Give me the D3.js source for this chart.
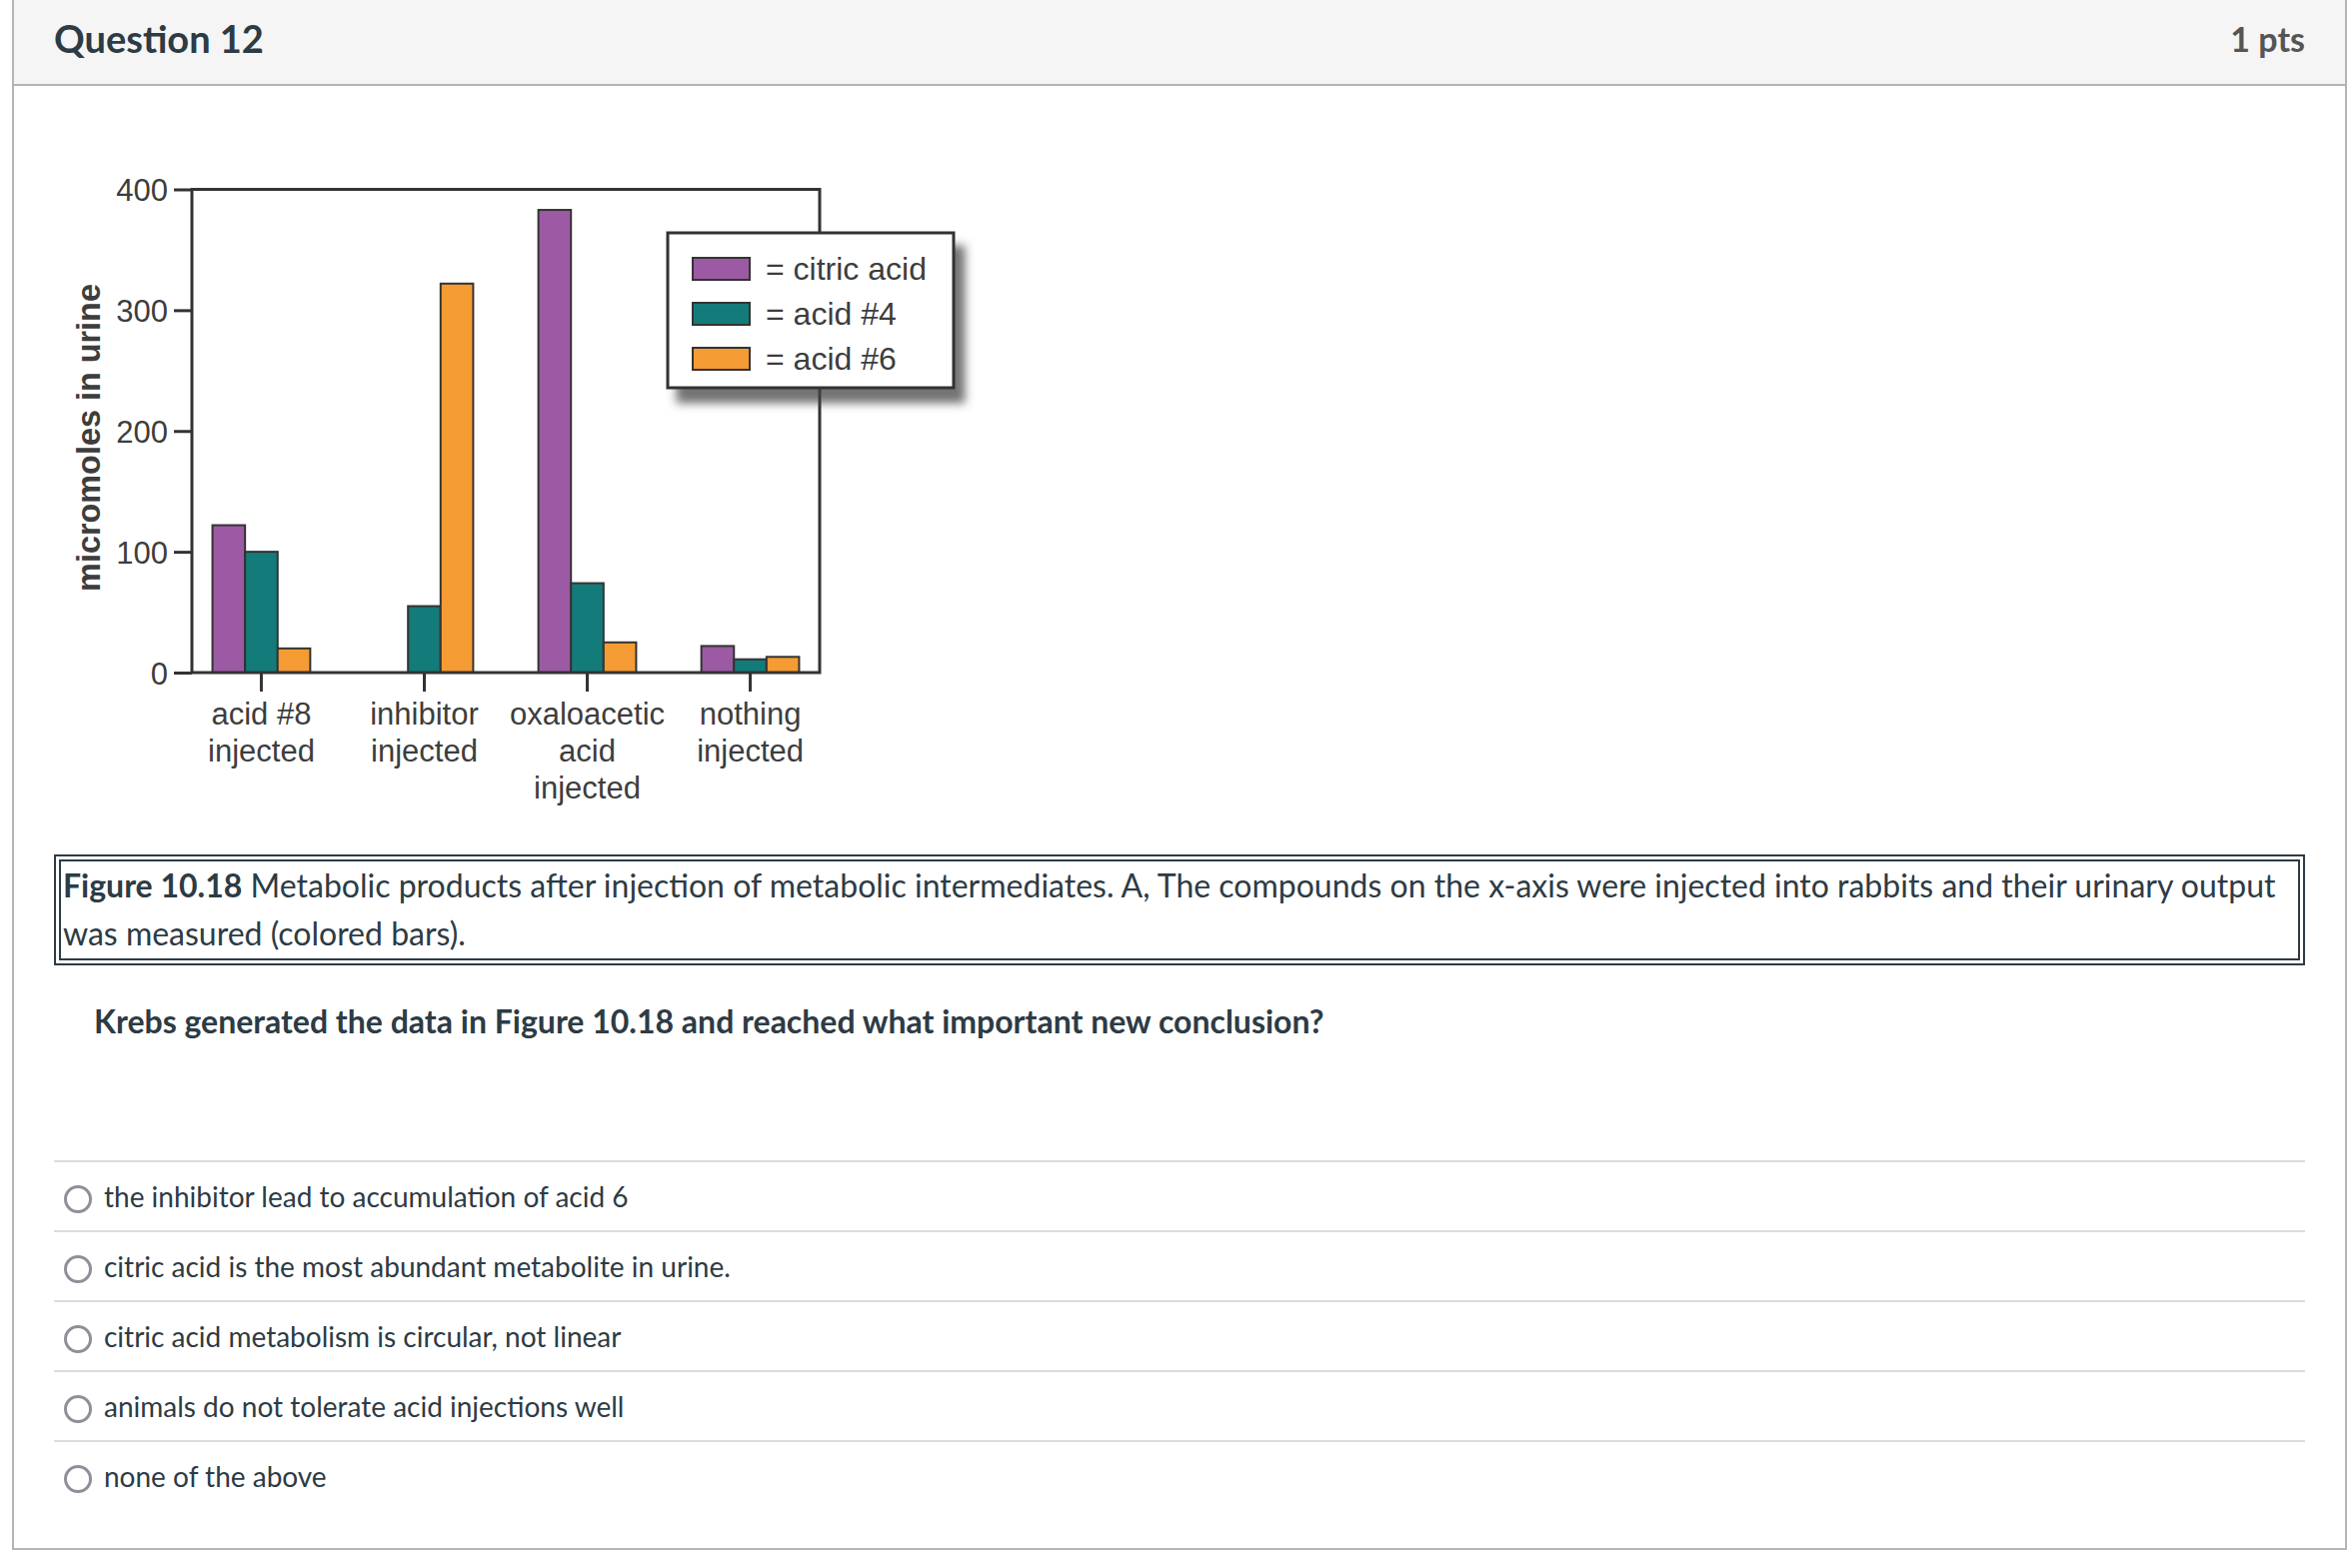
<!DOCTYPE html>
<html><head><meta charset="utf-8">
<script src="https://cdn.jsdelivr.net/npm/d3@7"></script>
<style>
html,body{margin:0;padding:0;background:#fff;width:2351px;height:1569px;overflow:hidden;font-family:Lato,sans-serif;color:#2d3b45}
.abs{position:absolute;white-space:nowrap}
#frame{position:absolute;left:12px;top:-2px;width:2336px;height:1553px;border:2px solid #b4b4b4;box-sizing:border-box}
#header{position:absolute;left:14px;top:0;width:2332px;height:84px;background:#f5f5f5;border-bottom:2px solid #b4b4b4}
#qtitle{left:54px;top:13px;font-weight:700;font-size:38px;line-height:50px;color:#2d3b45}
#pts{right:45px;top:14px;font-weight:700;font-size:34px;line-height:50px;color:#555}
#caption{position:absolute;left:54px;top:855px;width:2252px;height:111px;border:7px double #2d3b45;box-sizing:border-box;padding:0 2px;font-size:32px;line-height:48px;white-space:nowrap}
#qtext{left:94px;top:998px;font-weight:700;font-size:32px;line-height:48px}
.sep{position:absolute;left:54px;width:2252px;height:2px;background:#dcdcdc}
.radio{position:absolute;width:28px;height:28px;border:3px solid #8f8f9a;border-radius:50%;box-sizing:border-box}
.opt{position:absolute;left:104px;font-size:28px;line-height:44px;white-space:nowrap}
#chart{position:absolute;left:0;top:0}
</style></head>
<body>
<div id="frame"></div>
<div id="header"></div>
<div class="abs" id="qtitle">Question 12</div>
<div class="abs" id="pts">1 pts</div>
<div id="caption"><b>Figure 10.18</b> Metabolic products after injection of metabolic intermediates. A, The compounds on the x-axis were injected into rabbits and their urinary output<br>was measured (colored bars).</div>
<div class="abs" id="qtext">Krebs generated the data in Figure 10.18 and reached what important new conclusion?</div>
<div id="opts"></div>
<svg id="chart" width="2351" height="1569"></svg>
<script>
// ---- data ----
const categories = ["acid #8 injected", "inhibitor injected", "oxaloacetic acid injected", "nothing injected"];
const categoryLines = [["acid #8", "injected"], ["inhibitor", "injected"], ["oxaloacetic", "acid", "injected"], ["nothing", "injected"]];
const seriesNames = ["citric acid", "acid #4", "acid #6"];
const citricAcid = [122, 0, 383, 22];
const acid4 = [100, 55, 74, 11];
const acid6 = [20, 322, 25, 13];
const yTicks = [0, 100, 200, 300, 400];
const seriesColors = ["#9b5aa3", "#137b7a", "#f59b33"];
const answerOptions = [
  "the inhibitor lead to accumulation of acid 6",
  "citric acid is the most abundant metabolite in urine.",
  "citric acid metabolism is circular, not linear",
  "animals do not tolerate acid injections well",
  "none of the above"
];

// ---- page options ----
const opts = d3.select("#opts");
const sepY = [1161, 1231, 1301, 1371, 1441];
answerOptions.forEach((t, i) => {
  opts.append("div").attr("class", "sep").style("top", sepY[i] + "px");
  opts.append("div").attr("class", "radio").style("left", "64px").style("top", (sepY[i] + 25) + "px");
  opts.append("div").attr("class", "opt").style("top", (sepY[i] + 14) + "px").text(t);
});

// ---- chart ----
const svg = d3.select("#chart");
const seriesValues = [citricAcid, acid4, acid6];
const rows = categories.map((c, i) => ({cat: c, vals: seriesNames.map((s, j) => ({s, v: seriesValues[j][i], j}))}));

const pLeft = 192, pRight = 820, pTop = 189.5, pBottom = 673;
const x0 = d3.scaleBand().domain(categories).range([pLeft, pRight]).paddingInner(0.4).paddingOuter(0.126);
const x1 = d3.scaleBand().domain(seriesNames).range([0, x0.bandwidth()]);
const y = d3.scaleLinear().domain([0, 400]).range([pBottom, pTop]);
const color = d3.scaleOrdinal().domain(seriesNames).range(seriesColors);
const textFill = "#3d3d3d", lineCol = "#333";
const chartFont = "'Liberation Sans', Arial, sans-serif";

const defs = svg.append("defs");
const f = defs.append("filter").attr("id", "shadow").attr("x", "-20%").attr("y", "-20%").attr("width", "150%").attr("height", "160%");
f.append("feDropShadow").attr("dx", 10).attr("dy", 14).attr("stdDeviation", 5).attr("flood-color", "#444").attr("flood-opacity", 0.75);

// bars
const g = svg.append("g");
g.selectAll("g.grp").data(rows).join("g").attr("class", "grp")
  .attr("transform", d => `translate(${x0(d.cat)},0)`)
  .selectAll("rect").data(d => d.vals.filter(v => v.v > 0)).join("rect")
  .attr("x", d => x1(d.s)).attr("y", d => y(d.v))
  .attr("width", x1.bandwidth()).attr("height", d => y(0) - y(d.v))
  .attr("fill", d => color(d.s)).attr("stroke", lineCol).attr("stroke-width", 2);

// y axis
const ya = svg.append("g").attr("transform", `translate(${pLeft},0)`)
  .call(d3.axisLeft(y).tickValues(yTicks).tickSize(18).tickPadding(6).tickSizeOuter(0));
ya.select(".domain").remove();
ya.selectAll(".tick line").attr("stroke", lineCol).attr("stroke-width", 3);
ya.selectAll(".tick text").attr("font-family", chartFont).attr("font-size", 31).attr("fill", textFill).attr("dy", "0.36em");

// x axis
const xa = svg.append("g").attr("transform", `translate(0,${pBottom})`)
  .call(d3.axisBottom(x0).tickSize(19).tickSizeOuter(0));
xa.select(".domain").remove();
xa.selectAll(".tick line").attr("stroke", lineCol).attr("stroke-width", 3);
xa.selectAll(".tick text").each(function(d, i) {
  const t = d3.select(this).text(null).attr("y", 0).attr("dy", null)
    .attr("font-family", chartFont).attr("font-size", 31).attr("fill", textFill);
  categoryLines[i].forEach((ln, k) => t.append("tspan").attr("x", 0).attr("y", 51.5 + k * 37).text(ln));
});

// frame
svg.append("rect").attr("x", pLeft).attr("y", pTop).attr("width", pRight - pLeft).attr("height", pBottom - pTop)
  .attr("fill", "none").attr("stroke", lineCol).attr("stroke-width", 3);

// y label
svg.append("text").attr("transform", `translate(100,438) rotate(-90)`)
  .attr("text-anchor", "middle").attr("font-family", chartFont).attr("font-weight", 700)
  .attr("font-size", 32.4).attr("fill", textFill).text("micromoles in urine");

// legend
const lg = svg.append("g").attr("transform", "translate(668,233)");
lg.append("rect").attr("width", 286).attr("height", 155).attr("fill", "#fff")
  .attr("stroke", lineCol).attr("stroke-width", 3).attr("filter", "url(#shadow)");
seriesNames.forEach((s, i) => {
  lg.append("rect").attr("x", 25).attr("y", 25 + i * 45).attr("width", 57).attr("height", 22)
    .attr("fill", color(s)).attr("stroke", lineCol).attr("stroke-width", 2);
  lg.append("text").attr("x", 98).attr("y", 47 + i * 45).attr("font-family", chartFont)
    .attr("font-size", 32).attr("fill", textFill).text("= " + s);
});
</script>
</body></html>
